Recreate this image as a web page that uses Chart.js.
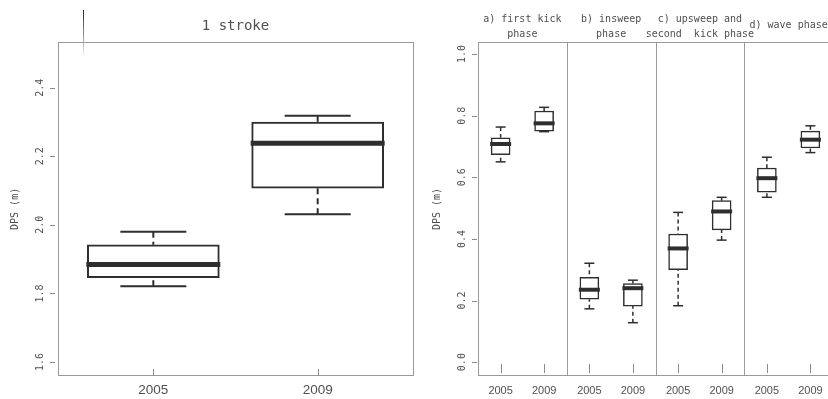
<!DOCTYPE html>
<html>
<head>
<meta charset="utf-8">
<script src="https://cdn.jsdelivr.net/npm/chart.js@4.4.1/dist/chart.umd.min.js"></script>
<style>
  html, body { margin: 0; padding: 0; background: #fff; overflow: hidden; }
  #wrap { position: relative; width: 828px; height: 399px; overflow: hidden; background: #fff; }
  canvas { position: absolute; top: 0; }
  #left { left: 0; }
  #right { left: 414px; }
  #mark { position: absolute; left: 83px; top: 10px; width: 1px; height: 48px;
          background: linear-gradient(#222, #999 55%, rgba(220,220,220,0)); }
</style>
</head>
<body>
<div id="wrap">
  <canvas id="left" width="414" height="399"></canvas>
  <canvas id="right" width="420" height="399"></canvas>
  <div id="mark"></div>
</div>
<script>
// ---- distance per stroke, whole stroke ----
const strokeYears  = ['2005', '2009'];
const strokeLow    = [1.821, 2.031];
const strokeQ1     = [1.846, 2.107];
const strokeMedian = [1.884, 2.238];
const strokeQ3     = [1.942, 2.300];
const strokeHigh   = [1.980, 2.318];
const strokeTicks  = [1.6, 1.8, 2.0, 2.2, 2.4];

// ---- distance per stroke, by phase (2005, 2009 for each phase) ----
const phaseTitles  = [['a) first kick', 'phase'], ['b) insweep', 'phase'],
                      ['c) upsweep and', 'second  kick phase'], ['d) wave phase']];
const phaseYears   = ['2005', '2009'];
const phaseLow     = [0.650, 0.748, 0.173, 0.128, 0.183, 0.396, 0.535, 0.680];
const phaseQ1      = [0.673, 0.750, 0.204, 0.182, 0.300, 0.429, 0.552, 0.695];
const phaseMedian  = [0.708, 0.775, 0.235, 0.240, 0.369, 0.489, 0.597, 0.722];
const phaseQ3      = [0.728, 0.815, 0.275, 0.255, 0.416, 0.524, 0.630, 0.750];
const phaseHigh    = [0.763, 0.827, 0.321, 0.266, 0.486, 0.535, 0.665, 0.767];
const phaseTicks   = [0.0, 0.2, 0.4, 0.6, 0.8, 1.0];

const TEXT = '#505050';
const INK = '#2e2e2e';
const FRAME = '#9a9a9a';
const MONO = "'DejaVu Sans Mono', monospace";
const NARROW = "'Liberation Sans Narrow', 'Liberation Sans', Arial, sans-serif";

// frame, tick marks, whiskers, medians and panel headings for a box plot
const boxDecor = {
  id: 'boxDecor',
  beforeDatasetsDraw(chart, args, o) {
    const { ctx, chartArea: a, scales: { x, y } } = chart;
    const seg = (x1, y1, x2, y2) => { ctx.beginPath(); ctx.moveTo(x1, y1); ctx.lineTo(x2, y2); ctx.stroke(); };
    ctx.save();
    ctx.strokeStyle = FRAME;
    ctx.lineWidth = 1;
    ctx.strokeRect(Math.round(a.left) + 0.5, Math.round(a.top) + 0.5,
                   Math.round(a.right - a.left), Math.round(a.bottom - a.top) - 1);
    (o.dividers || []).forEach(v => {
      const px = Math.round(x.getPixelForValue(v)) + 0.5;
      seg(px, a.top, px, a.bottom);
    });
    ctx.strokeStyle = '#8a8a8a';
    x.ticks.forEach(t => {
      const px = Math.round(x.getPixelForValue(t.value)) + 0.5;
      seg(px, a.bottom - o.xTick[0], px, a.bottom - o.xTick[1]);
    });
    y.ticks.forEach(t => {
      const py = Math.round(y.getPixelForValue(t.value)) + 0.5;
      seg(a.left - o.yTick[0], py, a.left - o.yTick[1], py);
    });
    // whiskers (dashed) and staples
    ctx.strokeStyle = INK;
    ctx.lineWidth = o.lw;
    o.pos.forEach((p, i) => {
      const px = x.getPixelForValue(p);
      ctx.setLineDash(o.dash);
      seg(px, y.getPixelForValue(o.high[i]), px, y.getPixelForValue(o.q3[i]));
      seg(px, y.getPixelForValue(o.low[i]), px, y.getPixelForValue(o.q1[i]));
      ctx.setLineDash([]);
      const h = o.cap / 2;
      seg(px - h, y.getPixelForValue(o.high[i]), px + h, y.getPixelForValue(o.high[i]));
      seg(px - h, y.getPixelForValue(o.low[i]), px + h, y.getPixelForValue(o.low[i]));
    });
    ctx.restore();
  },
  afterDatasetsDraw(chart, args, o) {
    const { ctx, scales: { x, y } } = chart;
    ctx.save();
    ctx.strokeStyle = INK;
    ctx.lineWidth = o.medLw;
    o.pos.forEach((p, i) => {
      const px = x.getPixelForValue(p);
      const py = y.getPixelForValue(o.median[i]);
      ctx.beginPath();
      ctx.moveTo(px - o.box / 2 - 1, py);
      ctx.lineTo(px + o.box / 2 + 1, py);
      ctx.stroke();
    });
    if (o.headers) {
      ctx.fillStyle = TEXT;
      ctx.font = '10px ' + MONO;
      ctx.textAlign = 'center';
      ctx.textBaseline = 'middle';
      o.headers.forEach((lines, k) => {
        const cx = x.getPixelForValue(o.headerAt[k]);
        if (lines.length === 1) {
          ctx.fillText(lines[0], cx, 25);
        } else {
          lines.forEach((s, j) => ctx.fillText(s, cx, 19 + j * 15));
        }
      });
    }
    ctx.restore();
  }
};

function boxChart(canvasId, cfg) {
  return new Chart(document.getElementById(canvasId), {
    type: 'bar',
    data: {
      datasets: [{
        data: cfg.pos.map((p, i) => ({ x: p, y: [cfg.q1[i], cfg.q3[i]] })),
        backgroundColor: '#ffffff',
        borderColor: INK,
        borderWidth: cfg.lw,
        borderSkipped: false,
        barThickness: cfg.box
      }]
    },
    options: {
      responsive: false,
      animation: false,
      events: [],
      layout: { padding: cfg.padding },
      plugins: {
        legend: { display: false },
        tooltip: { enabled: false },
        title: cfg.title ? {
          display: true, text: cfg.title, fullSize: false, color: TEXT,
          font: { family: MONO, size: 14, weight: 'normal' },
          padding: { top: 18, bottom: 7 }
        } : { display: false },
        boxDecor: cfg
      },
      scales: {
        x: {
          type: 'linear', min: cfg.xMin, max: cfg.xMax, offset: false,
          afterBuildTicks: s => { s.ticks = cfg.pos.map(v => ({ value: v })); },
          afterFit: s => { s.height = 23; },
          grid: { display: false, drawTicks: false },
          border: { display: false },
          ticks: {
            callback: (v, i) => cfg.labels[i],
            autoSkip: false, maxRotation: 0, padding: cfg.xPad, color: TEXT,
            font: { family: NARROW, size: cfg.xFont }
          }
        },
        y: {
          type: 'linear', min: cfg.yMin, max: cfg.yMax,
          afterBuildTicks: s => { s.ticks = cfg.yTicks.map(v => ({ value: v })); },
          afterFit: s => { s.width = cfg.yWidth; },
          grid: { display: false, drawTicks: false },
          border: { display: false },
          ticks: {
            callback: v => v.toFixed(1),
            minRotation: 90, maxRotation: 90, crossAlign: 'center',
            padding: cfg.yPad, color: TEXT,
            font: { family: MONO, size: 10 }
          },
          title: {
            display: true, text: 'DPS (m)', color: TEXT,
            font: { family: MONO, size: 10 },
            padding: { top: cfg.titlePad, bottom: 0 }
          }
        }
      }
    },
    plugins: [boxDecor]
  });
}

// whole stroke
boxChart('left', {
  pos: strokeYears.map((_, i) => i + 1),
  labels: strokeYears,
  low: strokeLow, q1: strokeQ1, median: strokeMedian, q3: strokeQ3, high: strokeHigh,
  yTicks: strokeTicks, yMin: 1.559, yMax: 2.534,
  xMin: 0.42, xMax: 2.58,
  box: 132, cap: 66, lw: 2, medLw: 5, dash: [6, 4],
  xTick: [7, 0], yTick: [8, 3],
  padding: { left: 0, right: 1, top: 0, bottom: 0 },
  title: '1 stroke',
  yWidth: 58, yPad: 9, titlePad: 9, xPad: 6, xFont: 13.5
});

// by phase: four panels side by side on one axis
const PANEL = 2.04, FIRST = 0.52;
boxChart('right', {
  pos: phaseMedian.map((_, i) => Math.floor(i / 2) * PANEL + FIRST + (i % 2)),
  labels: phaseMedian.map((_, i) => phaseYears[i % 2]),
  low: phaseLow, q1: phaseQ1, median: phaseMedian, q3: phaseQ3, high: phaseHigh,
  yTicks: phaseTicks, yMin: -0.045, yMax: 1.039,
  xMin: 0, xMax: PANEL * phaseTitles.length,
  dividers: phaseTitles.slice(1).map((_, k) => (k + 1) * PANEL),
  headers: phaseTitles,
  headerAt: phaseTitles.map((_, k) => (k + 0.5) * PANEL),
  box: 19, cap: 10, lw: 1.5, medLw: 4, dash: [4, 3],
  xTick: [12, 3], yTick: [6, 1],
  padding: { left: 0, right: 1, top: 42, bottom: 0 },
  yWidth: 64, yPad: 7, titlePad: 17, xPad: 8, xFont: 11
});
</script>
</body>
</html>
